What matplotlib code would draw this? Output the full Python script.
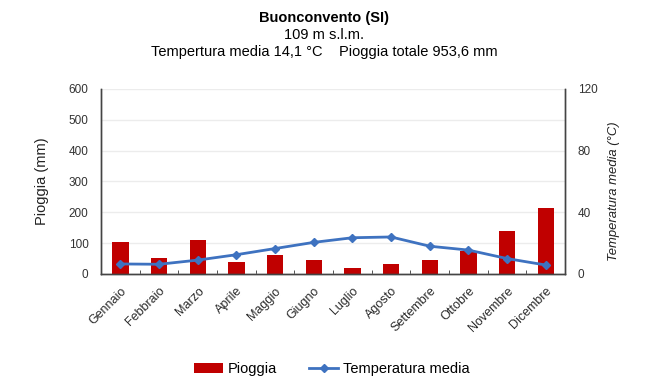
import matplotlib.pyplot as plt
import numpy as np
from matplotlib.ticker import FixedLocator

plt.rcParams['font.family'] = ['Liberation Sans', 'DejaVu Sans']

mesi = ['Gennaio', 'Febbraio', 'Marzo', 'Aprile', 'Maggio', 'Giugno', 'Luglio',
        'Agosto', 'Settembre', 'Ottobre', 'Novembre', 'Dicembre']
pioggia = [105, 53, 110, 38, 63, 44, 18, 32, 45, 73, 140, 215]
temperatura = [6.5, 6.3, 9.0, 12.5, 16.5, 20.5, 23.5, 24.0, 18.0, 15.5, 10.0, 5.8]

rosso = '#c00000'
blu = '#3e72c0'

fig = plt.figure(figsize=(6.48, 3.8), dpi=100)
ax = fig.add_axes([0.156, 0.279, 0.716, 0.487])
ax2 = ax.twinx()

x = np.arange(len(mesi))
b = ax.bar(x, pioggia, width=0.42, color=rosso, zorder=2, label='Pioggia')
l, = ax2.plot(x, temperatura, color=blu, lw=2, marker='D', ms=4.5, zorder=3,
              label='Temperatura media')

ax.set_xlim(-0.5, 11.5)
ax.set_ylim(0, 600)
ax.set_yticks(range(0, 601, 100))
ax2.set_ylim(0, 120)
ax2.set_yticks([0, 40, 80, 120])
ax.grid(axis='y', color='#ececec', lw=1, zorder=0)
ax.set_axisbelow(True)
ax2.set_zorder(ax.get_zorder() + 1)
ax2.patch.set_visible(False)

ax.set_xticks(x)
ax.set_xticklabels(mesi, rotation=45, ha='right', rotation_mode='anchor', fontsize=9, color='#2a2a2a')
ax.tick_params(axis='x', which='major', length=0, pad=8)
ax.xaxis.set_minor_locator(FixedLocator(np.arange(0.5, 11, 1)))
ax.tick_params(axis='x', which='minor', direction='in', length=3, color='#333333')
ax.tick_params(axis='y', length=0, labelsize=8.5, labelcolor='#333333', pad=9)
ax2.tick_params(axis='y', length=0, labelsize=8.5, labelcolor='#333333', pad=9)

for a in (ax, ax2):
    a.spines['top'].set_visible(False)
    for s in ('left', 'right', 'bottom'):
        a.spines[s].set_color('#444444')
        a.spines[s].set_linewidth(1)

ax.set_ylabel('Pioggia (mm)', fontsize=10.5, color='#222222', labelpad=14)
ax2.set_ylabel('Temperatura media (°C)', fontsize=9.4, color='#222222', style='italic')
ax2.yaxis.set_label_coords(1.093, 0.446)

fig.text(0.5, 0.952, 'Buonconvento (SI)', ha='center', va='center', fontsize=10.5, fontweight='bold')
fig.text(0.5, 0.908, '109 m s.l.m.', ha='center', va='center', fontsize=10.5)
fig.text(0.5, 0.862, 'Tempertura media 14,1 °C    Pioggia totale 953,6 mm', ha='center', va='center', fontsize=10.5)

fig.legend([b, l], ['Pioggia', 'Temperatura media'], loc='center', bbox_to_anchor=(0.512, 0.028),
           ncol=2, frameon=False, fontsize=10.5, handlelength=2.0, handletextpad=0.3,
           columnspacing=2.2)

fig.savefig('out.png', dpi=100)
